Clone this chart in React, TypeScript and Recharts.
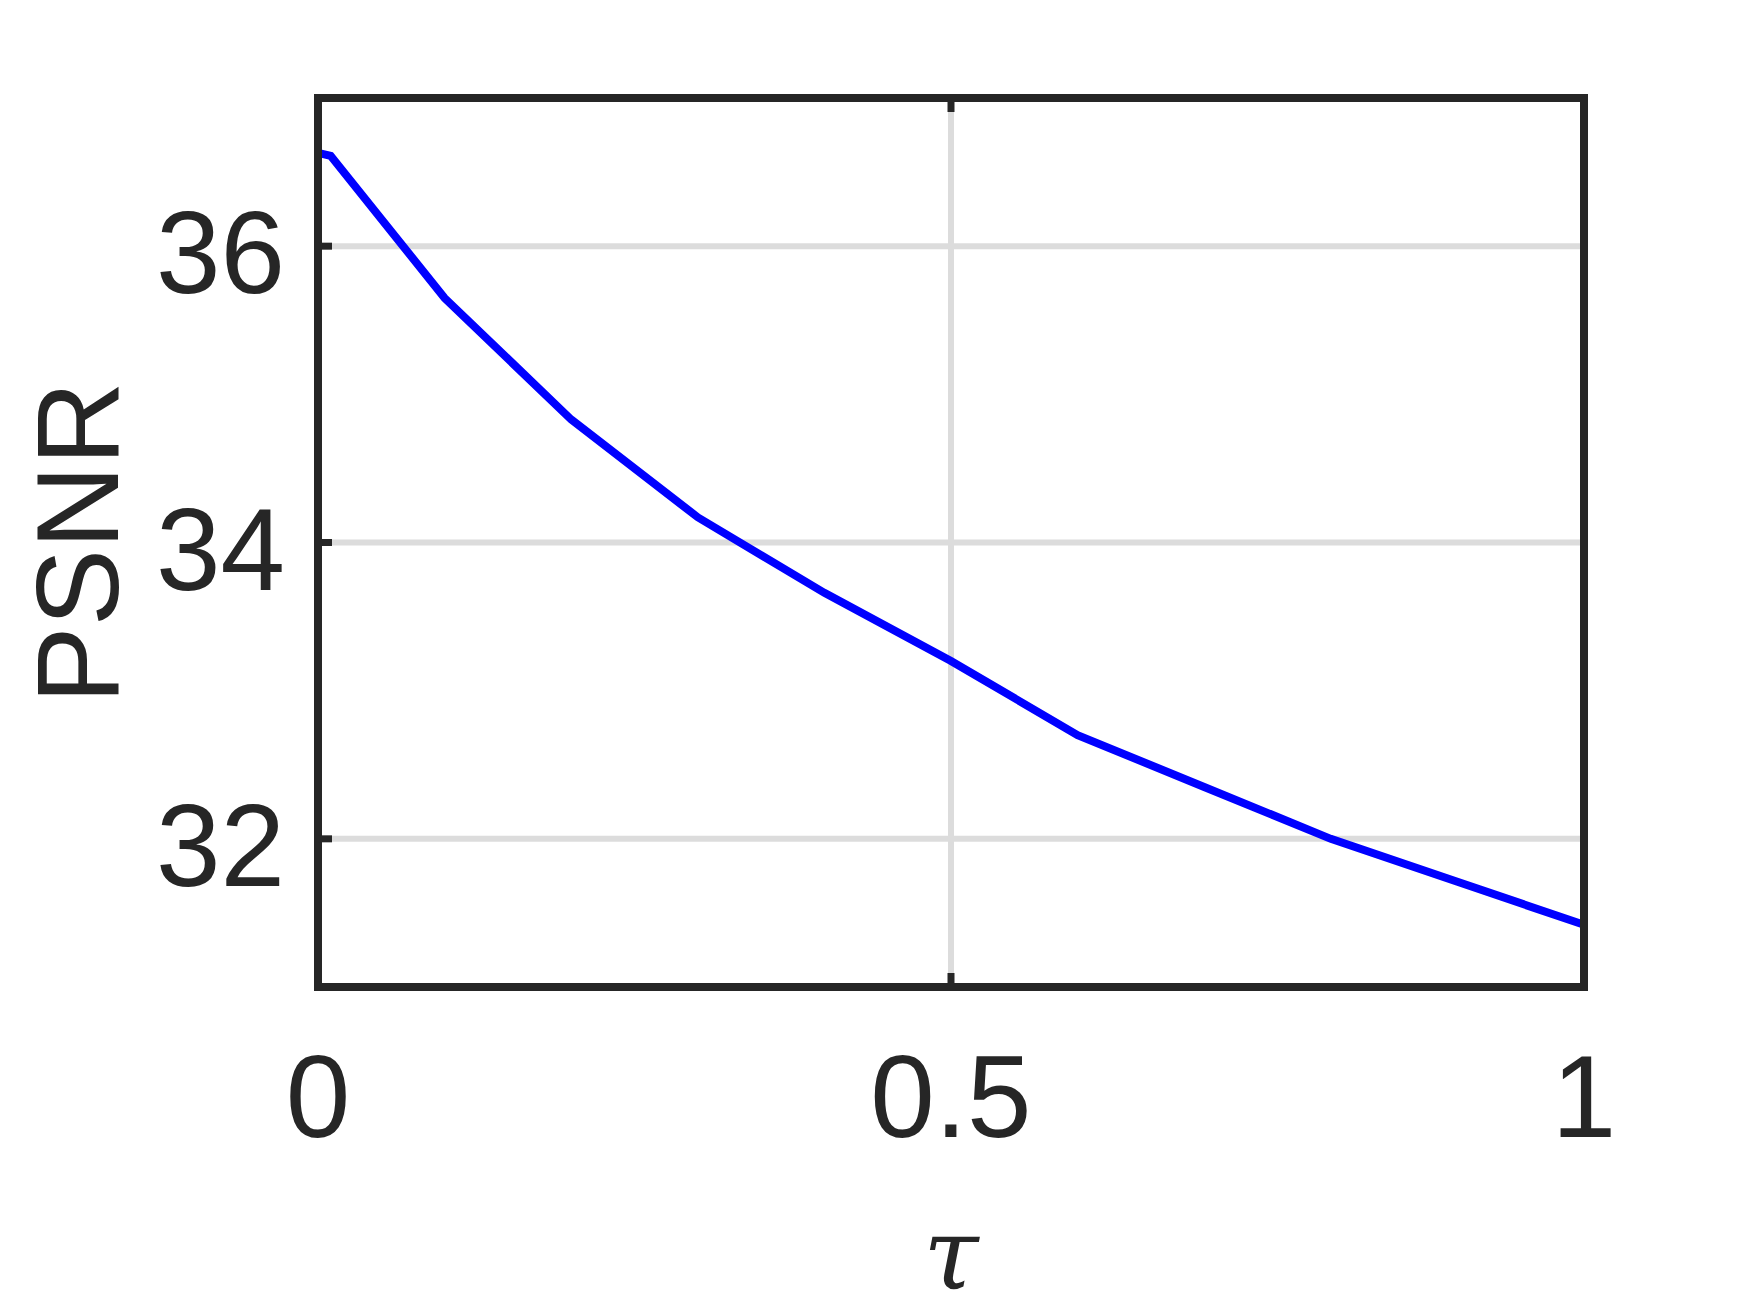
import React from 'react';
import { LineChart, Line, XAxis, YAxis, CartesianGrid, Label } from 'recharts';

const tau = [0, 0.01, 0.1, 0.2, 0.3, 0.4, 0.5, 0.6, 0.7, 0.8, 0.9, 1];
const psnr = [36.63, 36.61, 35.65, 34.83, 34.17, 33.66, 33.2, 32.7, 32.35, 32.0, 31.71, 31.42];
const xTicks = [0, 0.5, 1];
const yTicks = [32, 34, 36];

const data = tau.map((t, i) => ({ tau: t, psnr: psnr[i] }));

const FONT = '"Liberation Sans", Arial, Helvetica, sans-serif';
const INK = '#262626';
const TICK_LEN = 14;

const frame = { stroke: INK, strokeWidth: 8, strokeLinecap: 'square' as const };

function BottomTick(props: any) {
    const { x, y, payload } = props;
    return (
        <g>
            <line x1={x} y1={y} x2={x} y2={y - TICK_LEN} stroke={INK} strokeWidth={7} />
            <text x={x} y={y} dy={150} textAnchor="middle" fontSize={116} fontFamily={FONT} fill={INK}>
                {payload.value}
            </text>
        </g>
    );
}

function TopTick(props: any) {
    const { x, y } = props;
    return <line x1={x} y1={y} x2={x} y2={y + TICK_LEN} stroke={INK} strokeWidth={7} />;
}

function LeftTick(props: any) {
    const { x, y, payload } = props;
    return (
        <g>
            <line x1={x} y1={y} x2={x + TICK_LEN} y2={y} stroke={INK} strokeWidth={7} />
            <text x={x - 33} y={y} dy={47} textAnchor="end" fontSize={116} fontFamily={FONT} fill={INK}>
                {payload.value}
            </text>
        </g>
    );
}

function RightTick(props: any) {
    const { x, y } = props;
    return <line x1={x} y1={y} x2={x - TICK_LEN} y2={y} stroke={INK} strokeWidth={7} />;
}

export default function App() {
    return (
        <div style={{ width: 1742, height: 1305, background: '#fff' }}>
            <LineChart
                width={1742}
                height={1305}
                data={data}
                margin={{ top: 80, right: 156, bottom: 226, left: 210 }}
            >
                <CartesianGrid xAxisId="bottom" yAxisId="left" stroke="#dcdcdc" strokeWidth={6} />
                <XAxis
                    xAxisId="bottom"
                    dataKey="tau"
                    type="number"
                    domain={[0, 1]}
                    ticks={xTicks}
                    orientation="bottom"
                    height={100}
                    tickSize={0}
                    tickMargin={0}
                    tickLine={false}
                    axisLine={frame}
                    tick={<BottomTick />}
                    interval={0}
                >
                    <Label
                        content={(p: any) => {
                            const vb = p.viewBox;
                            return (
                                <text
                                    x={vb.x + vb.width / 2}
                                    y={vb.y}
                                    dy={301}
                                    textAnchor="middle"
                                    fontSize={100}
                                    fontStyle="italic"
                                    fontFamily='"DejaVu Serif", "Liberation Serif", serif'
                                    fill={INK}
                                >
                                    τ
                                </text>
                            );
                        }}
                    />
                </XAxis>
                <XAxis
                    xAxisId="top"
                    dataKey="tau"
                    type="number"
                    domain={[0, 1]}
                    ticks={xTicks}
                    orientation="top"
                    height={10}
                    tickSize={0}
                    tickMargin={0}
                    tickLine={false}
                    axisLine={frame}
                    tick={<TopTick />}
                    interval={0}
                />
                <YAxis
                    yAxisId="left"
                    type="number"
                    domain={[31, 37]}
                    ticks={yTicks}
                    orientation="left"
                    width={100}
                    tickSize={0}
                    tickMargin={0}
                    tickLine={false}
                    axisLine={frame}
                    tick={<LeftTick />}
                    interval={0}
                >
                    <Label
                        content={(p: any) => {
                            const vb = p.viewBox;
                            const cx = vb.x + vb.width - 200;
                            const cy = vb.y + vb.height / 2;
                            return (
                                <text
                                    x={cx}
                                    y={cy}
                                    transform={`rotate(-90, ${cx}, ${cy})`}
                                    textAnchor="middle"
                                    fontSize={116}
                                    fontFamily={FONT}
                                    fill={INK}
                                >
                                    PSNR
                                </text>
                            );
                        }}
                    />
                </YAxis>
                <YAxis
                    yAxisId="right"
                    type="number"
                    domain={[31, 37]}
                    ticks={yTicks}
                    orientation="right"
                    width={10}
                    tickSize={0}
                    tickMargin={0}
                    tickLine={false}
                    axisLine={frame}
                    tick={<RightTick />}
                    interval={0}
                />
                <Line
                    xAxisId="bottom"
                    yAxisId="left"
                    type="linear"
                    dataKey="psnr"
                    stroke="#0000ff"
                    strokeWidth={8}
                    dot={false}
                    isAnimationActive={false}
                />
            </LineChart>
        </div>
    );
}
